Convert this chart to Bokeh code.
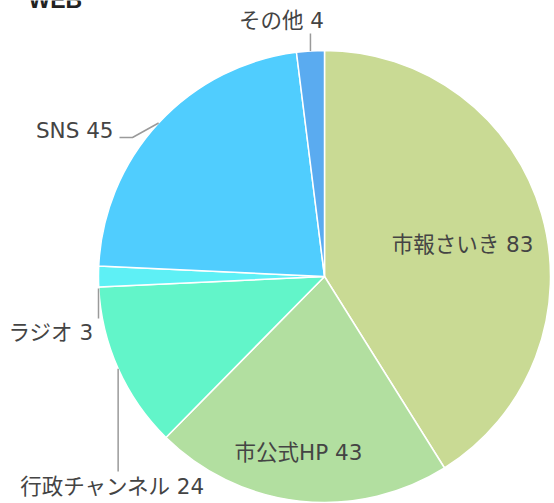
import numpy as np
from bokeh.plotting import figure
from bokeh.models import ColumnDataSource
from bokeh.core.properties import value
from bokeh.embed import file_html
from bokeh.resources import INLINE

title = "WEB"
categories = ["市報さいき", "市公式HP", "行政チャンネル", "ラジオ", "SNS", "その他"]
values = [83, 43, 24, 3, 45, 4]
colors = ["#c9da94", "#b2dfa0", "#62f5c9", "#5ef0f5", "#50cdfe", "#5aabf0"]

W, H = 554, 503
cx, cy, R = 324, H - 276, 226
FONT = value("DejaVu Sans, 'Noto Sans CJK JP'")
FS = "21.5px"
TC = "#444444"

vals = np.array(values, dtype=float)
total = vals.sum()
cum = np.concatenate([[0], np.cumsum(vals)])
start = np.pi / 2 - cum[:-1] / total * 2 * np.pi
end = np.pi / 2 - cum[1:] / total * 2 * np.pi
mid = (start + end) / 2

src = ColumnDataSource(dict(start=start, end=end, color=colors))

p = figure(width=W, height=H, x_range=(0, W), y_range=(0, H),
           output_backend="svg", toolbar_location=None, min_border=0)
p.axis.visible = False
p.grid.visible = False
p.outline_line_color = None

p.wedge(x=cx, y=cy, radius=R, start_angle="start", end_angle="end",
        direction="clock", fill_color="color", line_color="white",
        line_width=1.5, source=src)

labels = [f"{c} {v}" for c, v in zip(categories, values)]

def label(x, y, t, align):
    p.text(x=[x], y=[H - y], text=[t], text_font=FONT, text_font_size=FS,
           text_color=TC, text_align=align, text_baseline="middle")

# inside labels
label(462, 244, labels[0], "center")
label(298, 452, labels[1], "center")

# outside labels with leader lines
line_kw = dict(line_color="#9a9a9a", line_width=1.5)
px = lambda a, r=R: cx + r * np.cos(a)
py = lambda a, r=R: cy + r * np.sin(a)

# その他
a = mid[5]
p.line([px(a), px(a)], [py(a), H - 33], **line_kw)
label(281, 20, labels[5], "center")

# SNS
a = mid[4]
p.line([px(a), 132, 119], [py(a), H - 137, H - 137], **line_kw)
label(113, 130, labels[4], "right")

# ラジオ
a = mid[3]
p.line([px(a), px(a)], [H - 288, H - 318], **line_kw)
label(93, 332, labels[3], "right")

# 行政チャンネル
a = mid[2]
p.line([px(a), px(a)], [py(a), H - 471], **line_kw)
label(112, 486, labels[2], "center")

# title (mostly above the visible area, as in the reference)
p.text(x=[28], y=[H + 1], text=[title], text_font=value("Liberation Sans"),
       text_font_size="23px", text_font_style="bold", text_color="#222222",
       text_align="left", text_baseline="alphabetic")

open("out.html", "w").write(file_html(p, INLINE))
